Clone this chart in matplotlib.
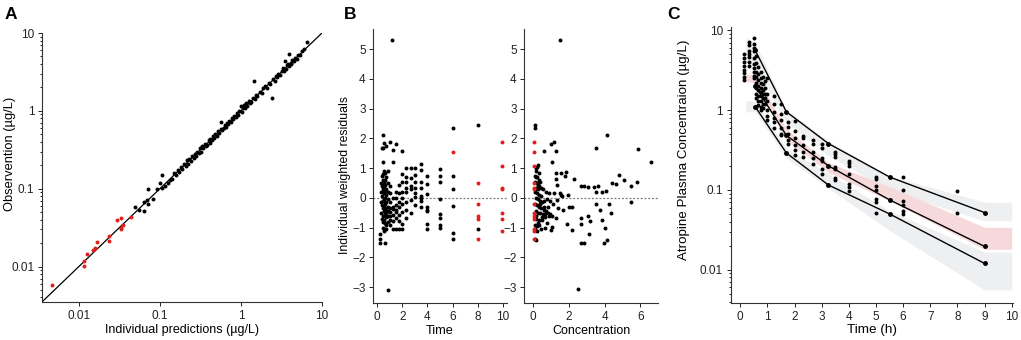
import numpy as np
import matplotlib.pyplot as plt
from matplotlib.ticker import FixedLocator, FixedFormatter, LogLocator, NullFormatter

plt.rcParams['font.family'] = ['Liberation Sans', 'DejaVu Sans']

# ---------------- data ----------------
# Panel A: observation vs individual prediction (ug/L)
pred_a = [0.049, 0.055, 0.063, 0.064, 0.069, 0.071, 0.071, 0.082, 0.093, 0.099, 0.107, 0.115,
          0.126, 0.105, 0.135, 0.14, 0.15, 0.16, 0.165, 0.17, 0.18, 0.19, 0.2, 0.21, 0.215, 0.22,
          0.23, 0.24, 0.25, 0.26, 0.27, 0.28, 0.29, 0.3, 0.31, 0.32, 0.33, 0.34, 0.36, 0.37, 0.38,
          0.4, 0.41, 0.42, 0.44, 0.45, 0.47, 0.48, 0.5, 0.52, 0.54, 0.56, 0.58, 0.56, 0.61, 0.63,
          0.65, 0.68, 0.7, 0.72, 0.75, 0.78, 0.8, 0.83, 0.86, 0.9, 0.93, 0.96, 1.0, 1.03, 1.07,
          1.1, 1.13, 1.17, 1.2, 1.25, 1.3, 1.35, 1.4, 1.45, 1.5, 1.55, 1.6, 1.7, 1.8, 1.9, 2.0,
          2.1, 2.2, 2.3, 2.42, 2.5, 2.6, 2.7, 2.8, 2.9, 3.0, 3.2, 3.3, 3.4, 3.47, 3.6, 3.7, 3.8,
          3.9, 3.96, 4.1, 4.2, 4.3, 4.5, 4.7, 4.9, 5.1, 5.4, 5.7, 6.0, 6.5]
obs_a = [0.058, 0.053, 0.052, 0.067, 0.072, 0.063, 0.100, 0.074, 0.100, 0.117, 0.102, 0.108,
         0.119, 0.148, 0.128, 0.135, 0.16, 0.15, 0.172, 0.165, 0.19, 0.178, 0.21, 0.195, 0.235,
         0.205, 0.24, 0.23, 0.26, 0.25, 0.28, 0.262, 0.3, 0.29, 0.33, 0.3, 0.35, 0.33, 0.38,
         0.355, 0.36, 0.42, 0.39, 0.44, 0.42, 0.47, 0.45, 0.5, 0.48, 0.55, 0.52, 0.58, 0.56,
         0.73, 0.6, 0.66, 0.62, 0.7, 0.68, 0.75, 0.72, 0.8, 0.78, 0.86, 0.84, 0.93, 0.89, 1.0,
         1.15, 0.98, 1.1, 1.2, 1.08, 1.25, 1.15, 1.35, 1.28, 1.3, 1.45, 2.45, 1.42, 1.6, 1.55,
         1.75, 1.72, 1.95, 2.1, 1.95, 2.3, 2.2, 1.48, 2.6, 2.45, 2.8, 2.7, 3.0, 2.85, 3.3, 3.6,
         3.3, 4.4, 3.45, 3.85, 4.0, 3.75, 5.4, 4.1, 4.0, 4.5, 4.35, 4.8, 4.7, 5.3, 5.2, 5.9, 6.2,
         7.6]
pred_a_red = [0.0047, 0.0115, 0.0114, 0.0127, 0.015, 0.016, 0.0168, 0.0237, 0.0237, 0.0299,
              0.0328, 0.0328, 0.033, 0.0351, 0.0443]
obs_a_red = [0.0058, 0.0116, 0.0103, 0.0143, 0.0165, 0.0171, 0.0205, 0.021, 0.0247, 0.0395,
             0.042, 0.031, 0.030, 0.0344, 0.0428]

# Panel B: IWRES vs time, grouped by sampling time
iwres_time = [
    (0.25, [-1.2, -1.38, -1.5]),
    (0.33, [0.2, -0.15, 0.5, -0.5]),
    (0.42, [1.67, 0.4, 0.75, 0.05, -0.25, -0.7]),
    (0.5, [2.12, 1.67, 1.22, 0.8, 0.6, 0.45, 0.3, 0.2, -0.1, -0.35, -0.6, -0.8, -1.0]),
    (0.58, [1.85, 0.9, 0.55, 0.5, 0.4, 0.15, -0.05, -0.3, -0.45, -0.75, -1.1]),
    (0.67, [0.85, 0.6, 0.45, 0.25, 0.0, -0.2, -0.4, -0.55, -0.85, -1.53]),
    (0.75, [1.75, 0.7, 0.3, 0.1, -0.15, -0.35, -0.5, -0.65, -0.9, -1.05]),
    (0.83, [0.9, 0.5, 0.2, -0.05, -0.3, -0.45, -0.6, -0.8]),
    (0.9, [-3.11]),
    (1.0, [1.87, 0.4, 0.16, -0.12, -0.35, -0.46, -0.62, -0.73, -0.9]),
    (1.17, [5.31]),
    (1.25, [1.61, 1.22, -0.01, -0.29, -0.37, -0.57, -0.79, -1.04]),
    (1.5, [1.81, 0.19, -0.01, -0.24, -0.4, -0.46, -0.68, -1.04]),
    (1.75, [0.44, 0.16, -0.12, -0.32, -0.57, -0.79, -1.04]),
    (2.0, [1.58, 0.79, 0.55, 0.21, -0.01, -0.2, -0.46, -0.88, -1.04]),
    (2.33, [1.01, 0.71, 0.55, 0.35, 0.19, -0.12, -0.4, -0.68]),
    (2.67, [1.01, 0.68, 0.4, 0.29, -0.07, -0.5]),
    (3.0, [0.99, 0.77, 0.55, 0.33, 0.16, 0.04, -0.24]),
    (3.5, [1.15, 0.94, 0.55, 0.33, 0.08, -0.01, -0.09, -0.32]),
    (4.0, [0.75, 0.48, 0.12, -0.32, -0.4, -0.45, -0.87, -1.05]),
    (5.0, [0.97, 0.75, 0.52, -0.05, -0.53, -0.68, -0.9, -1.0]),
    (6.0, [2.35, 0.75, 0.29, -0.27, -1.19, -1.38]),
    (8.0, [2.45, -1.03]),
]
iwres_time_red = [
    (6.0, [1.53]),
    (8.0, [0.5, -0.22, -0.6, -0.7, -1.37]),
    (9.9, [1.87, 1.06, 0.34, 0.29, -0.5, -0.7, -1.12]),
]

# Panel B: IWRES vs concentration
conc_b = [1.49, 2.49, 4.13, 3.5, 5.85, 6.62, 0.98, 1.16, 0.6, 1.25, 1.07, 1.84, 1.8, 2.26, 2.69,
          2.82, 3.06, 3.4, 3.6, 3.5, 3.83, 4.07, 4.42, 4.62, 4.78, 5.11, 5.48, 5.81, 5.45, 3.54,
          3.72, 4.24, 4.37, 3.87, 4.02, 3.97, 4.13, 3.06, 3.2, 3.1, 2.82, 2.67, 2.65, 2.69, 2.17,
          1.89, 1.98, 1.94, 2.17, 1.57, 1.62, 1.49, 1.31, 1.16, 1.34, 1.4, 1.66, 1.29, 1.03, 0.98,
          0.66, 1.55, 1.3, 1.25,
          0.1, 0.12, 0.15, 0.2, 0.25, 0.18, 0.1, 0.14, 0.22, 0.3, 0.12, 0.25, 0.35, 0.18, 0.28,
          0.42, 0.1, 0.2, 0.32, 0.45, 0.15, 0.25, 0.38, 0.5, 0.12, 0.22, 0.32, 0.45, 0.6, 0.7,
          0.18, 0.28, 0.4, 0.55, 0.8, 0.9, 0.65, 0.15, 0.3, 0.5, 0.1, 0.22, 0.35, 0.12, 0.2, 0.15,
          0.12, 0.45, 0.75, 0.85, 0.72, 0.6, 0.95, 1.05, 1.1, 0.78, 0.52, 0.4, 0.3, 0.2, 0.08,
          0.16, 0.26, 0.36, 0.48, 0.58, 0.68, 0.88, 0.95]
iwres_conc = [5.31, -3.07, 2.12, 1.67, 1.64, 1.22, 1.81, 1.87, 1.59, 1.59, 1.22, 0.88, 0.75, 0.64,
              0.41, 0.41, 0.36, 0.36, 0.4, 0.21, 0.19, 0.25, 0.5, 0.47, 0.77, 0.6, 0.41, 0.55, -0.12,
              -0.2, -0.42, -0.2, -0.5, -0.73, -1.02, -1.52, -1.4, -0.62, -0.76, -1.2, -1.52, -1.52,
              -0.68, -0.87, -1.07, -0.86, -0.3, 0.09, -0.3, 0.09, 0.05, 0.15, 0.45, 0.15, -0.07,
              -0.35, -0.4, -0.68, -0.96, -1.07, -1.02, 0.85, 0.85, 0.65,
              2.45, 2.34, 1.0, 1.05, 1.1, 0.9, 0.75, 0.7, 0.72, 0.6, 0.55, 0.45, 0.4, 0.35, 0.3,
              0.35, 0.2, 0.15, 0.1, 0.05, 0.0, -0.05, -0.1, -0.15, -0.2, -0.25, -0.3, -0.35, -0.4,
              -0.45, -0.45, -0.5, -0.5, -0.55, -0.5, -0.6, -0.65, -0.7, -0.75, -0.75, -0.9, -0.95,
              -0.9, -1.05, -1.1, -1.4, -1.38, -1.05, -0.85, -0.3, 0.2, -0.1, -0.55, -0.6, -0.2,
              -0.05, 0.3, 0.55, 0.85, 0.5, 0.3, -0.6, -0.85, -0.2, -0.65, -0.3, -0.55, 0.15, -0.1]
conc_b_red = [0.04, 0.05, 0.04, 0.05, 0.04, 0.05, 0.04, 0.05, 0.04, 0.05, 0.04, 0.05, 0.04]
iwres_conc_red = [1.87, 1.53, 1.06, 0.5, 0.34, 0.29, -0.22, -0.5, -0.6, -0.7, -1.03, -1.12, -1.37]

# Panel C: observed concentrations grouped by time (h)
conc_time = [
    (0.15, [5.0, 4.5, 4.0, 3.6, 3.2, 2.9, 2.6, 2.4]),
    (0.33, [7.2, 6.5, 5.5, 5.0, 4.6, 4.0, 3.6]),
    (0.5, [8.0, 6.8, 6.0, 5.5, 4.5, 3.8, 3.4, 3.0, 2.7, 2.5]),
    (0.58, [4.8, 3.9, 3.0, 2.6, 2.2, 1.9, 1.6, 1.4, 1.1]),
    (0.67, [3.5, 2.8, 2.4, 2.0, 1.8, 1.5, 1.3, 1.15]),
    (0.75, [3.0, 2.5, 2.2, 1.9, 1.7, 1.5, 1.3, 1.1, 1.0]),
    (0.83, [2.6, 2.1, 1.8, 1.6, 1.4, 1.2, 1.05]),
    (0.92, [2.3, 1.9, 1.6, 1.4, 1.2]),
    (1.0, [2.5, 1.6, 1.3, 1.0, 0.85, 0.75]),
    (1.25, [1.5, 1.2, 0.95, 0.8, 0.7, 0.6]),
    (1.5, [1.2, 0.9, 0.75, 0.6, 0.5, 0.48]),
    (1.75, [0.7, 0.62, 0.5, 0.42, 0.38]),
    (2.0, [0.72, 0.55, 0.45, 0.36, 0.32, 0.27]),
    (2.33, [0.47, 0.44, 0.36, 0.3, 0.26]),
    (2.67, [0.42, 0.38, 0.3, 0.25, 0.21]),
    (3.0, [0.38, 0.33, 0.25, 0.23, 0.18, 0.16]),
    (3.5, [0.30, 0.28, 0.256, 0.195, 0.183, 0.141, 0.133]),
    (4.0, [0.23, 0.215, 0.2, 0.16, 0.12, 0.108, 0.098]),
    (5.0, [0.146, 0.137, 0.113, 0.101, 0.077, 0.07, 0.051]),
    (6.0, [0.145, 0.1, 0.072, 0.064, 0.055, 0.05]),
    (8.0, [0.098, 0.052]),
]
# observed percentiles (5th, median, 95th) per time bin
bin_t = [0.55, 1.7, 3.25, 5.5, 9.0]
obs_p95 = [5.6, 0.95, 0.38, 0.145, 0.052]
obs_p50 = [2.0, 0.48, 0.2, 0.075, 0.0196]
obs_p05 = [1.1, 0.29, 0.115, 0.05, 0.012]
# simulated prediction intervals
band_t = [0.2, 0.55, 1.7, 3.25, 5.5, 9.0, 10.0]
p95_lo = [4.0, 3.5, 0.7, 0.27, 0.098, 0.041, 0.041]
p95_hi = [8.0, 7.0, 1.0, 0.41, 0.15, 0.07, 0.07]
p50_lo = [2.3, 2.2, 0.42, 0.166, 0.073, 0.018, 0.018]
p50_hi = [2.8, 2.8, 0.58, 0.22, 0.11, 0.034, 0.034]
p05_lo = [0.95, 0.95, 0.25, 0.105, 0.031, 0.0056, 0.0056]
p05_hi = [1.3, 1.3, 0.33, 0.16, 0.055, 0.0166, 0.0166]

# ---------------- figure ----------------
fig = plt.figure(figsize=(10.21, 3.4), dpi=100)
ms = 8
tick_fs = 8.5
red = '#e0201c'


def style(ax):
    for s in ['top', 'right']:
        ax.spines[s].set_visible(False)
    for s in ['left', 'bottom']:
        ax.spines[s].set_linewidth(0.8)
        ax.spines[s].set_color('#333333')
    ax.tick_params(labelsize=tick_fs, length=3, width=0.7, colors='#222222', pad=2.5)
    ax.tick_params(which='minor', length=1.5, width=0.6)


# Panel A
axA = fig.add_axes([0.0411, 0.1118, 0.2742, 0.791])
axA.plot([0.0035, 10], [0.0035, 10], color='black', lw=0.9, zorder=1)
axA.scatter(pred_a, obs_a, s=ms, color='black', lw=0, zorder=2)
axA.scatter(pred_a_red, obs_a_red, s=ms, color=red, lw=0, zorder=2)
axA.set_xscale('log')
axA.set_yscale('log')
axA.set_xlim(0.0035, 10)
axA.set_ylim(0.0035, 10)
for axis in [axA.xaxis, axA.yaxis]:
    axis.set_major_locator(FixedLocator([0.01, 0.1, 1, 10]))
    axis.set_major_formatter(FixedFormatter(['0.01', '0.1', '1', '10']))
    axis.set_minor_locator(LogLocator(base=10, subs=np.arange(2, 10)))
    axis.set_minor_formatter(NullFormatter())
style(axA)
axA.tick_params(axis='x', which='minor', length=0)
axA.set_xlabel('Individual predictions (µg/L)', fontsize=9)
axA.xaxis.set_label_coords(0.5, -0.104)
axA.xaxis.label.set_va('center')
axA.set_ylabel('Observention (µg/L)', fontsize=9.3)
axA.yaxis.set_label_coords(-0.115, 0.55)
axA.yaxis.label.set_va('center')

# Panel B left
axB1 = fig.add_axes([0.3656, 0.108, 0.1307, 0.806])
for t, vals in iwres_time:
    axB1.scatter([t] * len(vals), vals, s=ms, color='black', lw=0)
for t, vals in iwres_time_red:
    axB1.scatter([t] * len(vals), vals, s=ms, color=red, lw=0)
axB1.axhline(0, color='#777777', lw=0.9, ls=(0, (1.5, 1.5)), zorder=0)
axB1.set_xlim(-0.3, 10.3)
axB1.set_ylim(-3.54, 5.67)
axB1.set_xticks([0, 2, 4, 6, 8, 10])
axB1.set_yticks(range(-3, 6))
style(axB1)
axB1.set_xlabel('Time', fontsize=9.2)
axB1.xaxis.set_label_coords(0.5, -0.1)
axB1.xaxis.label.set_va('center')
axB1.set_ylabel('Individual weighted residuals', fontsize=8.8)
axB1.yaxis.set_label_coords(-0.21, 0.468)
axB1.yaxis.label.set_va('center')

# Panel B right
axB2 = fig.add_axes([0.5135, 0.108, 0.1312, 0.806])
axB2.scatter(conc_b, iwres_conc, s=ms, color='black', lw=0)
axB2.scatter(conc_b_red, iwres_conc_red, s=ms, color=red, lw=0)
axB2.axhline(0, color='#777777', lw=0.9, ls=(0, (1.5, 1.5)), zorder=0)
axB2.set_xlim(-0.5, 7.0)
axB2.set_ylim(-3.54, 5.67)
axB2.set_xticks([0, 2, 4, 6])
axB2.set_yticks(range(-3, 6))
style(axB2)
axB2.set_xlabel('Concentration', fontsize=9)
axB2.xaxis.set_label_coords(0.5, -0.1)
axB2.xaxis.label.set_va('center')

# Panel C
axC = fig.add_axes([0.7157, 0.108, 0.2765, 0.813])
axC.fill_between(band_t, p95_lo, p95_hi, color='#eeeff1', lw=0, zorder=0)
axC.fill_between(band_t, p05_lo, p05_hi, color='#eeeff1', lw=0, zorder=0)
axC.fill_between(band_t, p50_lo, p50_hi, color='#f6dadb', lw=0, zorder=0)
for t, vals in conc_time:
    axC.scatter([t] * len(vals), vals, s=ms, color='black', lw=0, zorder=3)
for prc in [obs_p95, obs_p50, obs_p05]:
    axC.plot(bin_t, prc, color='black', lw=1.0, marker='o', ms=2.5, zorder=2)
axC.set_yscale('log')
axC.set_xlim(-0.35, 10.05)
axC.set_ylim(0.0038, 11)
axC.set_xticks(range(0, 11))
axC.yaxis.set_major_locator(FixedLocator([0.01, 0.1, 1, 10]))
axC.yaxis.set_major_formatter(FixedFormatter(['0.01', '0.1', '1', '10']))
axC.yaxis.set_minor_locator(LogLocator(base=10, subs=np.arange(2, 10)))
axC.yaxis.set_minor_formatter(NullFormatter())
style(axC)
axC.set_xlabel('Time (h)', fontsize=9.7)
axC.xaxis.set_label_coords(0.5, -0.095)
axC.xaxis.label.set_va('center')
axC.set_ylabel('Atropine Plasma Concentraion (µg/L)', fontsize=9.6)
axC.yaxis.set_label_coords(-0.165, 0.555)
axC.yaxis.label.set_va('center')

# panel letters
for x, lab in [(0.004, 'A'), (0.337, 'B'), (0.654, 'C')]:
    fig.text(x, 0.958, lab, fontsize=12.5, fontweight='bold', va='center')

fig.savefig('out.png', dpi=100)
